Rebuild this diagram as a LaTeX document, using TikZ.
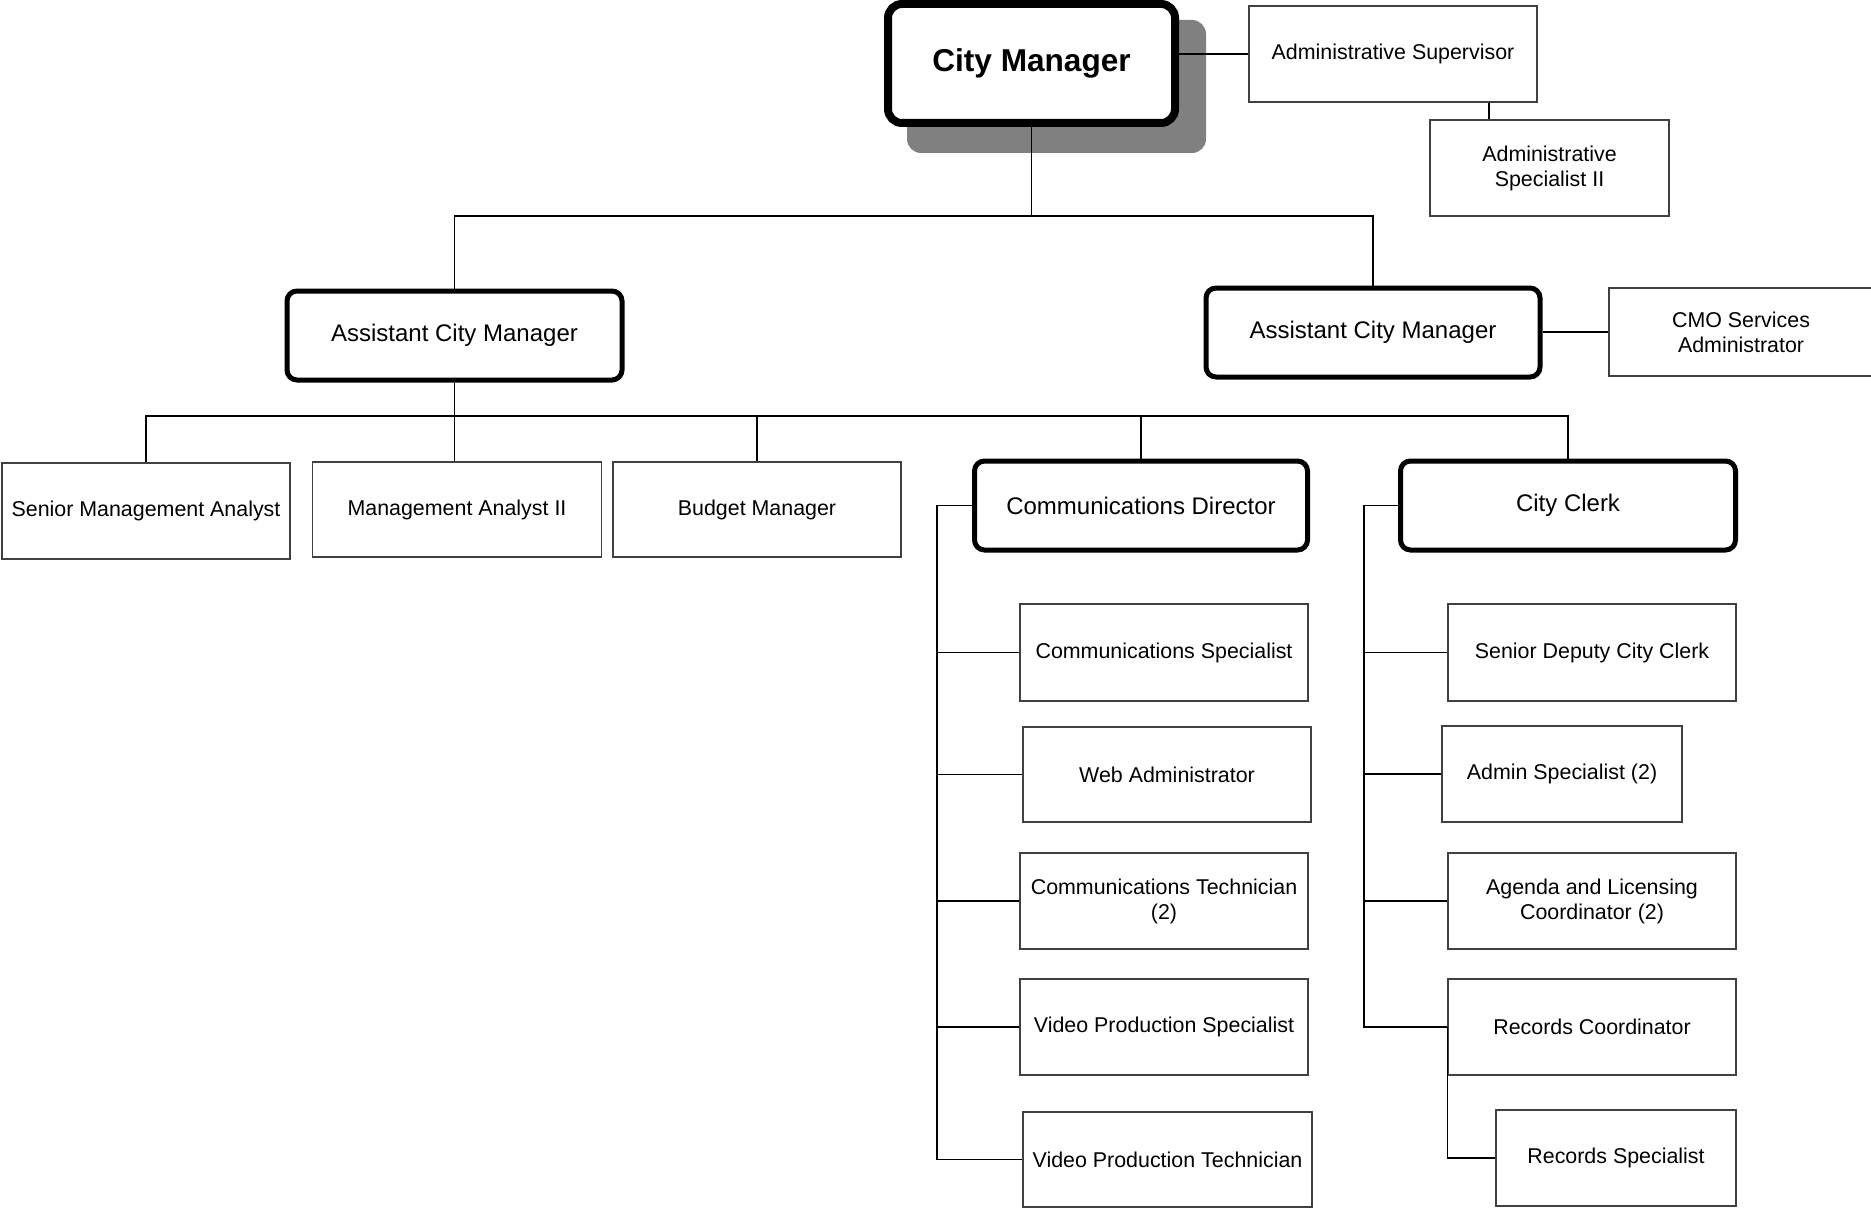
\documentclass[tikz,border=0pt]{standalone}
\usepackage{fontspec}
\setmainfont{Liberation Sans}
\usetikzlibrary{backgrounds}
\begin{document}
\begin{tikzpicture}[x=0.5pt,y=-0.5pt,
  post/.style={draw=black!75, line width=0.75pt, fill=white, inner sep=2pt,
    align=center, font=\fontsize{10.7}{12.5}\selectfont},
  head/.style={draw=black, line width=2.5pt, rounded corners=5pt, fill=white,
    inner sep=2pt, align=center, font=\fontsize{12}{14}\selectfont},
  top/.style={draw=black, line width=4pt, rounded corners=7pt, fill=white,
    align=center, font=\fontsize{15.8}{18}\bfseries\selectfont},
  link/.style={draw=black, line width=0.6pt}]
\clip (0,0) rectangle (1871,1209);
\useasboundingbox (0,0) rectangle (1871,1209);

% ---- top level ----
\node[top, minimum width=143.5pt, minimum height=59.5pt] (cm) at (1031.5,63.5) {City Manager};
\begin{scope}[on background layer]
  \fill[black!50, rounded corners=7pt]
    ([shift={(23,20)}]cm.north west) rectangle ([shift={(27,26)}]cm.south east);
\end{scope}

\node[post, minimum width=144pt, minimum height=48pt] (asup) at (1393,54) {Administrative Supervisor};
\node[post, minimum width=119.5pt, minimum height=48pt] (aspec) at (1549.5,168) {Administrative\\Specialist II};

\draw[link] (asup.west) -- (asup.west -| cm.east);
\draw[link] ([xshift=48pt]asup.south) -- ([xshift=48pt]asup.south |- aspec.north);

% ---- assistant city managers ----
\node[head, minimum width=167.5pt, minimum height=44.5pt] (acml) at (454.5,335.5) {Assistant City Manager};
\node[head, minimum width=167pt, minimum height=44.5pt] (acmr) at (1373,332.5) {Assistant City Manager};
\node[post, minimum width=132pt, minimum height=44pt] (cmo) at (1741,332) {CMO Services\\Administrator};

\coordinate (bus1) at (0,216);
\draw[link] (cm.south) -- (cm.south |- bus1);
\draw[link] (acml.north) -- (acml.north |- bus1) -- (acmr.north |- bus1) -- (acmr.north);
\draw[link] (acmr.east |- cmo.west) -- (cmo.west);

% ---- reports to the left assistant city manager ----
\node[post, minimum width=144pt, minimum height=48pt] (sma) at (146,511) {Senior Management Analyst};
\node[post, minimum width=144.5pt, minimum height=47.5pt] (mai) at (457,509.5) {Management Analyst II};
\node[post, minimum width=144pt, minimum height=47.5pt] (bm) at (757,509.5) {Budget Manager};
\node[head, minimum width=166.5pt, minimum height=44.5pt] (cd) at (1141,505.5) {Communications Director};
\node[head, minimum width=167.5pt, minimum height=44.5pt] (cc) at (1568,505.5) {City Clerk};

\coordinate (bus2) at (0,416);
\draw[link] (sma.north) -- (sma.north |- bus2) -- (cc.north |- bus2) -- (cc.north);
\draw[link] (acml.south) -- (acml.south |- mai.north);
\draw[link] (bm.north) -- (bm.north |- bus2);
\draw[link] (cd.north) -- (cd.north |- bus2);

% ---- communications ----
\node[post, minimum width=144pt, minimum height=48.5pt] (cs) at (1164,652.5) {Communications Specialist};
\node[post, minimum width=144pt, minimum height=47.5pt] (wa) at (1167,774.5) {Web Administrator};
\node[post, minimum width=144pt, minimum height=48pt] (ct) at (1164,901) {Communications Technician\\(2)};
\node[post, minimum width=144pt, minimum height=48pt] (vps) at (1164,1027) {Video Production Specialist};
\node[post, minimum width=144.5pt, minimum height=47.5pt] (vpt) at (1167.5,1159.5) {Video Production Technician};

\coordinate (rail1) at (937,0);
\draw[link] (cd.west) -- (cd.west -| rail1) -- (vpt.west -| rail1) -- (vpt.west);
\foreach \n in {cs,wa,ct,vps}
  \draw[link] (\n.west -| rail1) -- (\n.west);

% ---- city clerk ----
\node[post, minimum width=144pt, minimum height=48.5pt] (sdcc) at (1592,652.5) {Senior Deputy City Clerk};
\node[post, minimum width=120pt, minimum height=48pt] (adm) at (1562,774) {Admin Specialist (2)};
\node[post, minimum width=144pt, minimum height=48pt] (alc) at (1592,901) {Agenda and Licensing\\Coordinator (2)};
\node[post, minimum width=144pt, minimum height=48pt] (rc) at (1592,1027) {Records Coordinator};
\node[post, minimum width=120pt, minimum height=48pt] (rs) at (1616,1158) {Records Specialist};

\coordinate (rail2) at (1364,0);
\draw[link] (cc.west) -- (cc.west -| rail2) -- (rc.west -| rail2) -- (rc.west);
\foreach \n in {sdcc,adm,alc}
  \draw[link] (\n.west -| rail2) -- (\n.west);
\draw[link] (rc.west) -- (rc.west |- rs.west) -- (rs.west);
\end{tikzpicture}
\end{document}
